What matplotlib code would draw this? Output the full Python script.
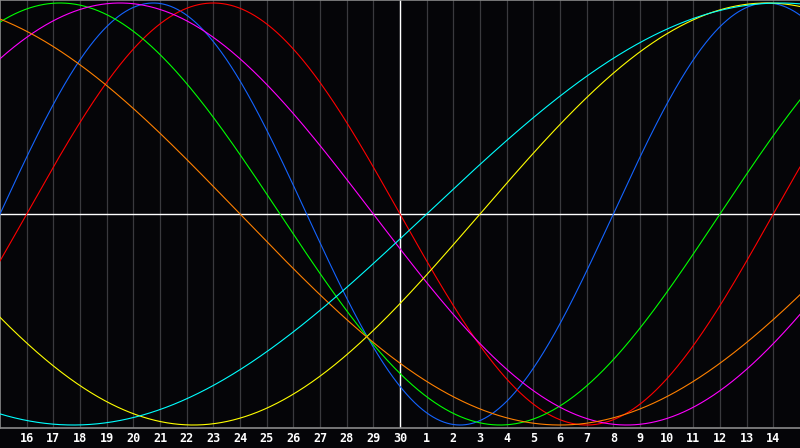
import numpy as np
import matplotlib
matplotlib.use("Agg")
import matplotlib.pyplot as plt

# biorhythm cycles: period in days and colour
periods = [23, 28, 33, 38, 43, 48, 53]
colors = ["#1464ff", "#ff0000", "#00ff00", "#ff00ff", "#ffff00", "#ff8000", "#00ffff"]

# days lived at the left edge of the chart
days_lived = 14559
n_days = 30

# tick labels (day of month) at day positions 1..29
day_labels = [16, 17, 18, 19, 20, 21, 22, 23, 24, 25, 26, 27, 28, 29, 30,
              1, 2, 3, 4, 5, 6, 7, 8, 9, 10, 11, 12, 13, 14]

bg = "#050508"
fig = plt.figure(figsize=(8, 4.48), dpi=100, facecolor=bg)
ax = fig.add_axes([0, 20 / 448, 1, 428 / 448])
ax.set_facecolor(bg)

lim = 214 / 211
ax.set_xlim(0, n_days)
ax.set_ylim(-lim, lim)

# vertical day grid
for d in range(1, n_days):
    ax.axvline(d, color="#3a3a3e", lw=0.9, zorder=1)

# centre cross
ax.axvline(n_days / 2, color="white", lw=1.0, zorder=2)
ax.axhline(0, color="white", lw=1.0, zorder=2)

t = np.linspace(0, n_days, 1600)
for p, c in zip(periods, colors):
    v = np.sin(2 * np.pi * (days_lived + t) / p)
    ax.plot(t, v, color=c, lw=0.8, zorder=3)

ax.set_xticks([])
ax.set_yticks([])
for s in ["top", "left", "bottom"]:
    ax.spines[s].set_color("#8a8a8a")
    ax.spines[s].set_linewidth(1.2)
ax.spines["right"].set_visible(False)

for i, lab in enumerate(day_labels):
    fig.text((i + 1) / n_days, 10 / 448, str(lab), color="white",
             fontsize=8.5, fontweight="bold", family="DejaVu Sans Mono",
             ha="center", va="center")

fig.savefig("out.png", dpi=100, facecolor=bg)
